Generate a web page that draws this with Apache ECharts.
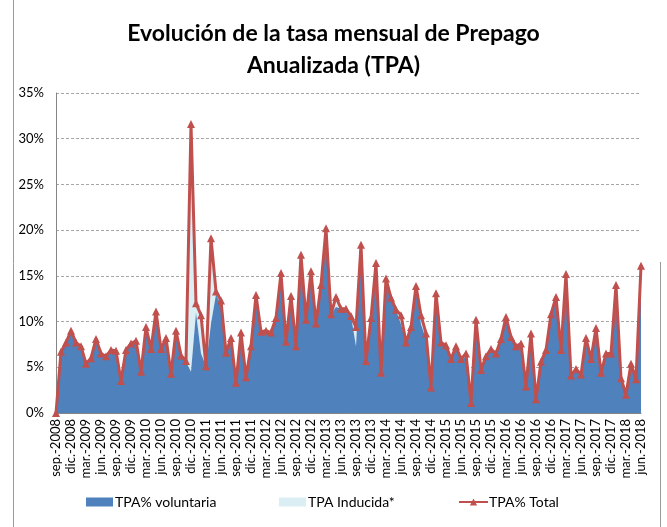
<!DOCTYPE html>
<html>
<head>
<meta charset="utf-8">
<script src="https://cdn.jsdelivr.net/npm/echarts@6/dist/echarts.min.js"></script>
<style>
html,body{margin:0;padding:0;background:#fff;}
#chart{width:667px;height:527px;}
</style>
</head>
<body>
<div id="chart"></div>
<script>
// Month abbreviations (Spanish) used to build category labels
const monthNames = ["ene.","feb.","mar.","abr.","may.","jun.","jul.","ago.","sep.","oct.","nov.","dic."];
const startYear = 2008, startMonth = 8, monthCount = 118; // sep.-2008 .. jun.-2018
const categories = [];
for (let k = 0; k < monthCount; k++) {
  const m = (startMonth + k) % 12;
  const y = startYear + Math.floor((startMonth + k) / 12);
  categories.push(monthNames[m] + "-" + y);
}

const yTicks = [0, 5, 10, 15, 20, 25, 30, 35];

// TPA% Total (percent)
const tpaTotal = [
  0.0, 6.7, 7.7, 9.0, 7.7, 7.3, 5.4, 6.0, 8.1, 6.5, 6.2, 6.9,
  6.8, 3.5, 6.9, 7.6, 7.9, 4.5, 9.4, 7.0, 11.1, 7.0, 8.2, 4.3,
  9.0, 6.3, 5.7, 31.6, 12.0, 10.7, 5.1, 19.1, 13.3, 12.3, 6.6, 8.2,
  3.3, 8.8, 3.9, 7.3, 12.9, 8.9, 9.0, 8.8, 10.4, 15.3, 7.8, 12.8,
  7.3, 17.3, 10.2, 15.5, 9.8, 14.0, 20.2, 10.8, 12.7, 11.4, 11.4, 10.6,
  9.4, 18.4, 5.7, 10.4, 16.4, 4.4, 14.7, 12.6, 11.3, 10.7, 7.7, 9.4,
  13.9, 10.7, 8.7, 2.8, 13.1, 7.7, 7.4, 5.9, 7.3, 5.9, 6.5, 1.1,
  10.2, 4.7, 6.2, 7.0, 6.5, 8.1, 10.5, 8.3, 7.3, 7.6, 2.9, 8.7,
  1.5, 5.6, 6.9, 10.8, 12.7, 6.9, 15.2, 4.1, 4.8, 4.2, 8.2, 5.9,
  9.3, 4.4, 6.5, 6.5, 14.0, 3.8, 2.0, 5.4, 3.7, 16.1
];

// TPA% voluntaria (percent)
const tpaVoluntaria = [
  0.0, 6.7, 7.7, 9.0, 7.7, 7.3, 5.4, 6.0, 8.1, 6.5, 6.2, 6.9,
  6.8, 3.5, 6.9, 7.6, 7.9, 4.5, 9.4, 7.0, 11.1, 7.0, 8.2, 4.3,
  9.0, 6.3, 5.6, 4.5, 11.0, 6.5, 5.1, 9.8, 13.0, 11.8, 6.6, 8.2,
  3.3, 8.8, 3.9, 7.3, 12.9, 8.9, 9.0, 8.8, 10.4, 15.3, 7.8, 12.8,
  7.3, 17.3, 10.2, 15.5, 9.8, 14.0, 20.2, 10.8, 11.6, 11.4, 11.4, 10.6,
  7.3, 18.4, 5.7, 10.4, 16.4, 4.4, 14.7, 12.6, 11.3, 9.7, 7.7, 9.4,
  13.9, 9.7, 8.1, 2.8, 13.1, 7.7, 7.4, 5.9, 7.3, 5.9, 6.1, 1.1,
  10.2, 4.7, 6.2, 7.0, 6.5, 8.1, 10.5, 8.3, 7.3, 7.6, 2.9, 8.7,
  1.5, 5.6, 6.9, 10.8, 12.7, 6.9, 15.2, 4.1, 4.8, 4.2, 8.2, 5.9,
  9.3, 4.4, 6.5, 6.5, 14.0, 3.8, 2.0, 5.4, 3.7, 16.1
];

// TPA Inducida* (percent)
const tpaInducida = [
  0, 0, 0, 0, 0, 0, 0, 0, 0, 0, 0, 0,
  0, 0, 0, 0, 0, 0, 0, 0, 0, 0, 0, 0,
  0, 0, 0.1, 27.1, 1.0, 4.2, 0, 9.3, 0.3, 0.5, 0, 0,
  0, 0, 0, 0, 0, 0, 0, 0, 0, 0, 0, 0,
  0, 0, 0, 0, 0, 0, 0, 0, 1.1, 0, 0, 0,
  2.1, 0, 0, 0, 0, 0, 0, 0, 0, 1.0, 0, 0,
  0, 1.0, 0.6, 0, 0, 0, 0, 0, 0, 0, 0.4, 0,
  0, 0, 0, 0, 0, 0, 0, 0, 0, 0, 0, 0,
  0, 0, 0, 0, 0, 0, 0, 0, 0, 0, 0, 0,
  0, 0, 0, 0, 0, 0, 0, 0, 0, 0
];

const FONT = "Lato";
const chart = echarts.init(document.getElementById('chart'), null, {renderer: 'canvas'});
chart.setOption({
  animation: false,
  backgroundColor: '#ffffff',
  textStyle: {fontFamily: FONT},
  title: {
    text: 'Evolución de la tasa mensual de Prepago\nAnualizada (TPA)',
    left: 'center',
    top: 13,
    textStyle: {fontFamily: FONT, fontSize: 23, fontWeight: 'bold', color: '#000', lineHeight: 32}
  },
  legend: [
    {data: [{name: 'TPA% voluntaria', icon: 'rect'}], left: 86, top: 495, padding: 0, itemWidth: 27, itemHeight: 9, itemGap: 2,
     textStyle: {fontFamily: FONT, fontSize: 14, color: '#000', padding: [0,0,0,-3]}},
    {data: [{name: 'TPA Inducida*', icon: 'rect'}], left: 279, top: 495, padding: 0, itemWidth: 27, itemHeight: 9,
     textStyle: {fontFamily: FONT, fontSize: 14, color: '#000', padding: [0,0,0,-3]}},
    {data: [{name: 'TPA% Total'}], left: 458, top: 495, padding: 0, itemWidth: 29, itemHeight: 9,
     textStyle: {fontFamily: FONT, fontSize: 14, color: '#000', padding: [0,0,0,-4]}}
  ],
  grid: {left: 56, right: 26, top: 93, bottom: 114, containLabel: false},
  xAxis: {
    type: 'category',
    data: categories,
    boundaryGap: false,
    axisLine: {lineStyle: {color: '#868686', width: 1}},
    axisTick: {show: false},
    axisLabel: {interval: 2, rotate: 90, fontFamily: FONT, fontSize: 13, color: '#000', margin: 6},
    splitLine: {show: false}
  },
  yAxis: {
    type: 'value',
    min: yTicks[0], max: yTicks[yTicks.length - 1], interval: 5,
    axisLine: {show: true, lineStyle: {color: '#868686', width: 1}},
    axisTick: {show: false},
    axisLabel: {formatter: '{value}%', fontFamily: FONT, fontSize: 13, color: '#000', margin: 12},
    splitLine: {lineStyle: {color: '#a6a6a6', type: [3, 2], width: 1}}
  },
  graphic: [
    {type: 'line', shape: {x1: 13.5, y1: 0, x2: 13.5, y2: 527}, style: {stroke: '#9a9a9a', lineWidth: 1}, silent: true},
    {type: 'line', shape: {x1: 660.5, y1: 262, x2: 660.5, y2: 527}, style: {stroke: '#9a9a9a', lineWidth: 1}, silent: true}
  ],
  series: [
    {
      name: 'TPA% voluntaria', type: 'line', stack: 'tpa', data: tpaVoluntaria,
      symbol: 'none', showSymbol: false, lineStyle: {width: 0}, itemStyle: {color: '#4F81BD'},
      areaStyle: {color: '#4F81BD', opacity: 1}, z: 2
    },
    {
      name: 'TPA Inducida*', type: 'line', stack: 'tpa', data: tpaInducida,
      symbol: 'none', showSymbol: false, lineStyle: {width: 0}, itemStyle: {color: '#DAEEF3'},
      areaStyle: {color: '#DAEEF3', opacity: 1}, z: 1
    },
    {
      name: 'TPA% Total', type: 'line', data: tpaTotal,
      symbol: 'triangle', symbolSize: 8, showAllSymbol: true,
      lineStyle: {color: '#C0504D', width: 3},
      itemStyle: {color: '#C0504D', borderWidth: 0}, z: 5
    }
  ]
});
</script>
</body>
</html>
